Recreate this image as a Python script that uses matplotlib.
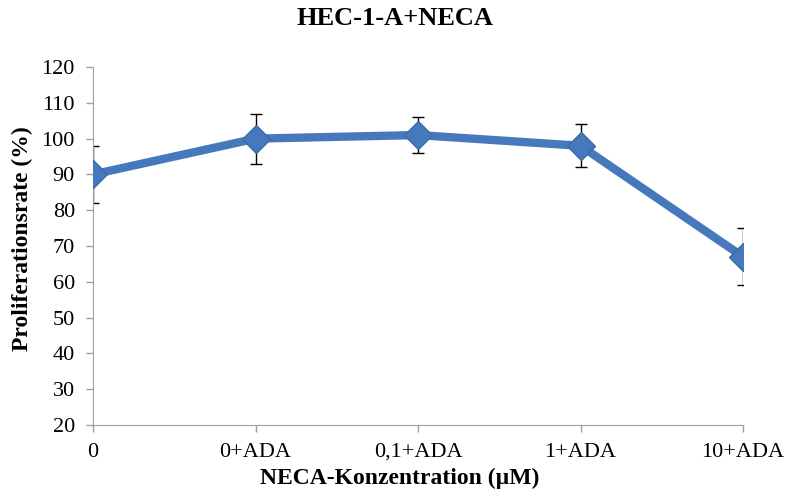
import numpy as np
import matplotlib
matplotlib.use("Agg")
from matplotlib import pyplot as plt

categories = ["0", "0+ADA", "0,1+ADA", "1+ADA", "10+ADA"]
rate = [90, 100, 101, 98, 67]
err = [8, 7, 5, 6, 8]

plt.rcParams['font.family'] = ['Liberation Serif', 'DejaVu Serif']

fig = plt.figure(figsize=(7.85, 4.93), dpi=100)
ax = fig.add_axes([0.1185, 0.138, 0.828, 0.726])

x = np.arange(len(categories))
ax.errorbar(x, rate, yerr=err, fmt='none', ecolor='black', elinewidth=1,
            capsize=4, capthick=1, zorder=2)
ax.plot(x, rate, color='#4679BC', lw=6, marker='D', markersize=14,
        markerfacecolor='#4679BC', markeredgecolor='#3A6AAA', zorder=3,
        solid_capstyle='butt')

ax.set_xlim(0, 4)
ax.set_ylim(20, 120)
ax.set_yticks(range(20, 121, 10))
ax.set_xticks(x)
ax.set_xticklabels(categories)

for s in ['top', 'right']:
    ax.spines[s].set_visible(False)
for s in ['left', 'bottom']:
    ax.spines[s].set_color('#A0A0A0')
ax.tick_params(axis='both', colors='#A0A0A0', labelcolor='black',
               labelsize=16, length=5, width=1)
ax.tick_params(axis='x', pad=8)
ax.tick_params(axis='y', pad=8)

ax.set_title('HEC-1-A+NECA', fontsize=19, fontweight='bold', pad=30, x=0.465)
ax.set_xlabel('NECA-Konzentration (µM)', fontsize=17, fontweight='bold',
              labelpad=4, x=0.472)
ax.set_ylabel('Proliferationsrate (%)', fontsize=17, fontweight='bold',
              labelpad=6, y=0.52)

fig.savefig('out.png', dpi=100)
